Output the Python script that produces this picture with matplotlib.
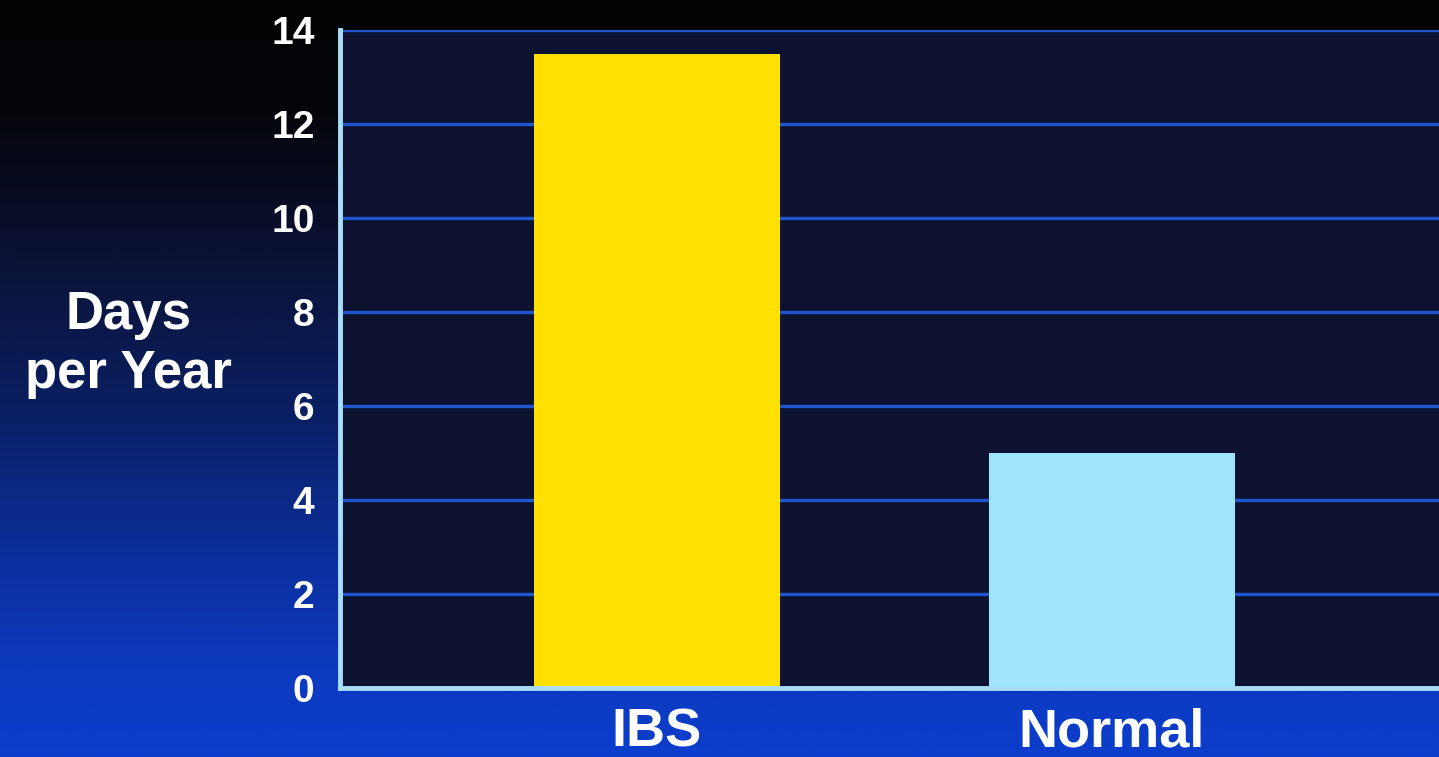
import numpy as np
import matplotlib
matplotlib.use("Agg")
import matplotlib.pyplot as plt
from matplotlib.colors import LinearSegmentedColormap

categories = ["IBS", "Normal"]
days_per_year = [13.5, 5.0]
bar_colors = ["#ffe000", "#a0e4fc"]
y_ticks = [0, 2, 4, 6, 8, 10, 12, 14]

plt.rcParams["font.family"] = ["Liberation Sans", "DejaVu Sans"]
plt.rcParams["font.weight"] = "bold"

fig = plt.figure(figsize=(14.39, 7.57), dpi=100)

# slide background: black at top fading to bright blue at the bottom
bg = fig.add_axes([0, 0, 1, 1], zorder=-10)
bg_cmap = LinearSegmentedColormap.from_list(
    "slide",
    [(0.0, "#030304"), (0.15, "#05060c"), (0.3, "#0a0f2c"), (0.55, "#0a2064"),
     (0.75, "#0c30a0"), (0.9, "#0c3ac0"), (1.0, "#0c3ecc")],
)
grad = np.linspace(0, 1, 256).reshape(-1, 1)
bg.imshow(grad, aspect="auto", cmap=bg_cmap, extent=[0, 1, 0, 1], origin="upper")
bg.set_axis_off()

ax = fig.add_axes([0.236, 0.091, 0.764, 0.869])
ax.set_facecolor("#0d1230")

x = np.arange(len(categories))
ax.bar(x, days_per_year, width=0.54, color=bar_colors, zorder=3)

ax.set_xlim(-0.697, 1.719)
ax.set_ylim(0, 14)
ax.set_yticks(y_ticks)
ax.set_yticklabels([str(t) for t in y_ticks], fontsize=28, fontweight="bold", color="white")
ax.set_xticks(x)
ax.set_xticklabels(categories, fontsize=39, fontweight="bold", color="white")
ax.tick_params(axis="y", length=0, pad=18)
ax.tick_params(axis="x", length=0, pad=14)

ax.grid(axis="y", color="#1f56d0", linewidth=2.4, zorder=1)
ax.set_axisbelow(True)
for side in ["top", "right"]:
    ax.spines[side].set_visible(False)
for side in ["left", "bottom"]:
    ax.spines[side].set_color("#a8defc")
    ax.spines[side].set_linewidth(3.5)
    ax.spines[side].set_zorder(4)

fig.text(0.089, 0.545, "Days\nper Year", ha="center", va="center",
         fontsize=38, fontweight="bold", color="white", linespacing=1.25)

fig.savefig("out.png", dpi=100)
